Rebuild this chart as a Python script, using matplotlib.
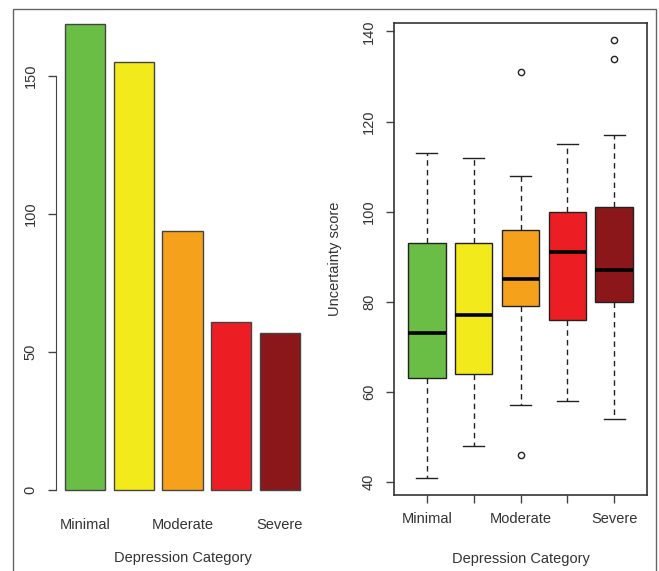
import numpy as np
import matplotlib.pyplot as plt
from matplotlib.patches import Rectangle

plt.rcParams['font.family'] = ['Liberation Sans', 'DejaVu Sans']

# depression category counts
tick_labels = ['Minimal', '', 'Moderate', '', 'Severe']
counts = [169, 155, 94, 61, 57]
colors = ['#6abd45', '#f2ea1a', '#f6a11b', '#ec1e24', '#8b171a']

# uncertainty score summary per category
medians = [73, 77, 85, 91, 87]
q1 = [63, 64, 79, 76, 80]
q3 = [93, 93, 96, 100, 101]
whislo = [41, 48, 57, 58, 54]
whishi = [113, 112, 108, 115, 117]
fliers = [[], [], [131, 46], [], [134, 138]]

W, H = 659, 571
TXT = '#333333'
fig = plt.figure(figsize=(W / 100, H / 100), dpi=100)


def px_axes(left, top, right, bottom):
    return fig.add_axes([left / W, 1 - bottom / H, (right - left) / W, (bottom - top) / H])


# ---- bar chart of counts ----
ax1 = px_axes(55.5, 5, 309.5, 508.7)
n = len(counts)
xs = 0.7 + 1.2 * np.arange(n)
ax1.bar(xs, counts, width=1.0, color=colors, edgecolor='#444444', linewidth=1)
ax1.set_xlim(0.2 - 0.232, 6.0 + 0.232)
pad = 0.04 * max(counts)
ax1.set_ylim(-pad, max(counts) + pad)
for s in ['top', 'right', 'bottom']:
    ax1.spines[s].set_visible(False)
ax1.spines['left'].set_bounds(0, 150)
ax1.spines['left'].set_color('#444444')
ax1.set_yticks([0, 50, 100, 150])
ax1.set_xticks(xs)
ax1.set_xticklabels(tick_labels)
ax1.tick_params(axis='x', length=0, pad=7, labelsize=10.5, labelcolor=TXT)
ax1.tick_params(axis='y', length=6, width=1, color='#444444', pad=7,
                labelsize=10.5, labelcolor=TXT, labelrotation=90)
for t in ax1.get_yticklabels():
    t.set_va('center')
ax1.set_xlabel('Depression Category', fontsize=10.5, color=TXT, labelpad=13.5)

# ---- boxplot of uncertainty scores ----
ax2 = px_axes(394, 23, 647, 495)
stats = []
for i in range(n):
    stats.append(dict(med=medians[i], q1=q1[i], q3=q3[i],
                      whislo=whislo[i], whishi=whishi[i], fliers=fliers[i]))
bp = ax2.bxp(stats, positions=np.arange(1, n + 1), widths=0.8, capwidths=0.45,
             patch_artist=True,
             boxprops=dict(edgecolor='#222222', linewidth=1),
             whiskerprops=dict(color='#222222', linewidth=1, linestyle=(0, (4, 3))),
             capprops=dict(color='#222222', linewidth=1),
             medianprops=dict(color='black', linewidth=2.6),
             flierprops=dict(marker='o', markerfacecolor='none',
                             markeredgecolor='#222222', markersize=4.5))
for patch, c in zip(bp['boxes'], colors):
    patch.set_facecolor(c)

lo = min(min(whislo), min(min(f) for f in fliers if f))
hi = max(max(whishi), max(max(f) for f in fliers if f))
rng = hi - lo
ax2.set_ylim(lo - 0.04 * rng, hi + 0.04 * rng)
ax2.set_xlim(0.5 - 0.2, n + 0.5 + 0.2)
ax2.set_yticks([40, 60, 80, 100, 120, 140])
ax2.set_xticks(np.arange(1, n + 1))
ax2.set_xticklabels(tick_labels)
for s in ax2.spines.values():
    s.set_color('#333333')
    s.set_linewidth(1.2)
ax2.tick_params(axis='x', length=6, width=1, color='#444444', pad=6,
                labelsize=10.5, labelcolor=TXT)
ax2.tick_params(axis='y', length=6, width=1, color='#444444', pad=7,
                labelsize=10.5, labelcolor=TXT, labelrotation=90)
for t in ax2.get_yticklabels():
    t.set_va('center')
ax2.set_xlabel('Depression Category', fontsize=10.5, color=TXT, labelpad=19)
ax2.set_ylabel('Uncertainty score', fontsize=10.5, color=TXT, labelpad=14)

# thin outer frame
fig.patches.append(Rectangle((13 / W, -0.1), (656 - 13) / W, 1.1 - 9 / H,
                             transform=fig.transFigure, fill=False,
                             edgecolor='#666666', linewidth=1))

fig.savefig('out.png', dpi=100)
